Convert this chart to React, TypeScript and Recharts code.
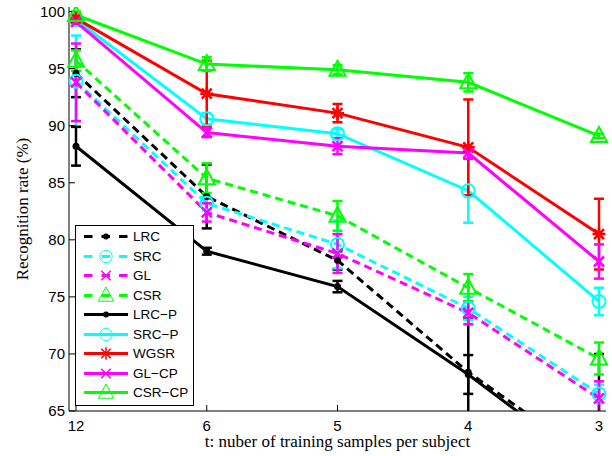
import React from 'react';
import { LineChart, Line, XAxis, YAxis, ErrorBar, Legend } from 'recharts';

const samples = ['12', '6', '5', '4', '3'];
const yTicks = [65, 70, 75, 80, 85, 90, 95, 100];

// recognition rate (%) and error (std) per method
const lrc = [94.6, 83.8, 78.2, 68.4, 60.3];
const lrcErr = [2.1, 2.8, 0.8, 4.7, 9.7];
const src = [93.9, 83.2, 79.6, 74.0, 66.5];
const srcErr = [4.0, 0.6, 2.1, 1.0, 0.8];
const gl = [93.8, 82.4, 78.8, 73.6, 66.1];
const glErr = [3.4, 0.8, 1.7, 1.0, 1.5];
const csr = [95.7, 85.4, 82.1, 75.8, 69.6];
const csrErr = [0.9, 1.3, 1.3, 1.2, 1.4];
const lrcP = [88.2, 79.0, 75.9, 68.2, 59.6];
const lrcPErr = [1.7, 0.3, 0.5, 1.7, 1.5];
const srcP = [99.3, 90.6, 89.3, 84.3, 74.6];
const srcPErr = [0.4, 0.5, 0.4, 2.8, 1.2];
const wgsr = [99.4, 92.8, 91.1, 88.1, 80.5];
const wgsrErr = [0.3, 2.9, 0.8, 4.2, 3.1];
const glCP = [99.1, 89.4, 88.2, 87.6, 78.1];
const glCPErr = [0.3, 0.4, 0.7, 0.5, 1.5];
const csrCP = [99.7, 95.4, 94.9, 93.8, 89.1];
const csrCPErr = [0.3, 0.6, 0.4, 0.8, 0.2];

type MarkerKind = 'dot' | 'circle' | 'x' | 'star' | 'triangle';

interface SeriesDef {
  key: string;
  name: string;
  color: string;
  dashed: boolean;
  marker: MarkerKind;
  values: number[];
  errors: number[];
}

const series: SeriesDef[] = [
  { key: 'lrc', name: 'LRC', color: '#000000', dashed: true, marker: 'dot', values: lrc, errors: lrcErr },
  { key: 'src', name: 'SRC', color: '#00ffff', dashed: true, marker: 'circle', values: src, errors: srcErr },
  { key: 'gl', name: 'GL', color: '#ff00ff', dashed: true, marker: 'x', values: gl, errors: glErr },
  { key: 'csr', name: 'CSR', color: '#00ff00', dashed: true, marker: 'triangle', values: csr, errors: csrErr },
  { key: 'lrcP', name: 'LRC\u2212P', color: '#000000', dashed: false, marker: 'dot', values: lrcP, errors: lrcPErr },
  { key: 'srcP', name: 'SRC\u2212P', color: '#00ffff', dashed: false, marker: 'circle', values: srcP, errors: srcPErr },
  { key: 'wgsr', name: 'WGSR', color: '#ff0000', dashed: false, marker: 'star', values: wgsr, errors: wgsrErr },
  { key: 'glCP', name: 'GL\u2212CP', color: '#ff00ff', dashed: false, marker: 'x', values: glCP, errors: glCPErr },
  { key: 'csrCP', name: 'CSR\u2212CP', color: '#00ff00', dashed: false, marker: 'triangle', values: csrCP, errors: csrCPErr },
];

const data = samples.map((t, i) => {
  const row: Record<string, string | number> = { t };
  series.forEach(s => {
    row[s.key] = s.values[i];
    row[s.key + 'Err'] = s.errors[i];
  });
  return row;
});

// plot box (pixels inside the 612x456 chart)
const PLOT = { left: 69, top: 7, right: 606, bottom: 411 };

const Marker = ({
  kind,
  cx,
  cy,
  color,
  lw = 2,
  scale = 1,
}: {
  kind: MarkerKind;
  cx: number;
  cy: number;
  color: string;
  lw?: number;
  scale?: number;
}) => {
  if (kind === 'dot') return <circle cx={cx} cy={cy} r={3.5 * scale} fill={color} stroke="none" />;
  if (kind === 'circle') return <circle cx={cx} cy={cy} r={6.5 * scale} fill="none" stroke={color} strokeWidth={lw} />;
  if (kind === 'x') {
    const d = 5 * scale;
    return (
      <path
        d={`M${cx - d},${cy - d}L${cx + d},${cy + d}M${cx - d},${cy + d}L${cx + d},${cy - d}`}
        stroke={color}
        strokeWidth={lw + 0.5}
        fill="none"
      />
    );
  }
  if (kind === 'star') {
    const d = 5 * scale;
    const e = 6.5 * scale;
    return (
      <path
        d={`M${cx - d},${cy - d}L${cx + d},${cy + d}M${cx - d},${cy + d}L${cx + d},${cy - d}M${cx},${cy - e}L${cx},${cy + e}M${cx - e},${cy}L${cx + e},${cy}`}
        stroke={color}
        strokeWidth={lw + 0.5}
        fill="none"
      />
    );
  }
  return (
    <path
      d={`M${cx},${cy - 9 * scale}L${cx + 8 * scale},${cy + 6 * scale}L${cx - 8 * scale},${cy + 6 * scale}Z`}
      stroke={color}
      strokeWidth={lw}
      fill="none"
    />
  );
};

const renderLegend = () => (
  <div
    style={{
      width: 119,
      height: 181,
      border: '1px solid #000',
      boxSizing: 'border-box',
      background: '#fff',
      paddingTop: 1,
      fontFamily: '"Liberation Sans", Arial, sans-serif',
      fontSize: 13.5,
      color: '#000',
    }}
  >
    {series.map(s => (
      <div key={s.key} style={{ display: 'flex', alignItems: 'center', height: 19.5 }}>
        <svg width={57} height={19} style={{ display: 'block' }}>
          <path
            d="M8,9.5L52,9.5"
            stroke={s.color}
            strokeWidth={3}
            strokeDasharray={s.dashed ? '8.5 9' : undefined}
          />
          <Marker kind={s.marker} cx={30} cy={9.5} color={s.color} lw={1} scale={s.marker === 'dot' ? 0.85 : 0.95} />
        </svg>
        <span style={{ lineHeight: '19px' }}>{s.name}</span>
      </div>
    ))}
  </div>
);

const tickStyle = { fontFamily: '"Liberation Sans", Arial, sans-serif', fontSize: 15, fill: '#000' };

const App: React.FC = () => {
  return (
    <div style={{ position: 'absolute', left: 0, top: 0, width: 612, height: 456, background: '#fff' }}>
      <style>{'.recharts-errorBar { clip-path: url(#plotClip); }'}</style>
      <svg width={0} height={0} style={{ position: 'absolute' }}>
        <defs>
          <clipPath id="plotClip" clipPathUnits="userSpaceOnUse">
            <rect
              x={PLOT.left}
              y={PLOT.top}
              width={PLOT.right - PLOT.left}
              height={PLOT.bottom - PLOT.top}
            />
          </clipPath>
        </defs>
      </svg>
      <LineChart
        width={612}
        height={456}
        data={data}
        margin={{ top: PLOT.top, right: 612 - PLOT.right, bottom: 0, left: 0 }}
      >
        <XAxis
          dataKey="t"
          height={456 - PLOT.bottom}
          padding={{ left: 7, right: 7 }}
          tick={tickStyle}
          tickSize={-6}
          tickMargin={15}
          axisLine={{ stroke: '#000' }}
          tickLine={{ stroke: '#000' }}
          label={() => (
            <text
              x={(PLOT.left + PLOT.right) / 2}
              y={447}
              textAnchor="middle"
              fontFamily='"Liberation Serif", "Times New Roman", serif'
              fontSize={17}
              fill="#000"
            >
              t: nuber of training samples per subject
            </text>
          )}
        />
        <XAxis
          xAxisId="top"
          dataKey="t"
          orientation="top"
          height={0}
          padding={{ left: 7, right: 7 }}
          tickSize={-6}
          tickFormatter={() => ''}
          axisLine={{ stroke: '#000' }}
          tickLine={{ stroke: '#000' }}
        />
        <YAxis
          type="number"
          width={PLOT.left}
          domain={[65, 100.4]}
          ticks={yTicks}
          interval={0}
          allowDataOverflow
          tick={tickStyle}
          tickSize={-6}
          tickMargin={10}
          axisLine={{ stroke: '#000' }}
          tickLine={{ stroke: '#000' }}
          label={() => {
            const cy = (PLOT.top + PLOT.bottom) / 2;
            return (
              <text
                x={22}
                y={cy}
                textAnchor="middle"
                dominantBaseline="central"
                transform={`rotate(-90, 22, ${cy})`}
                fontFamily='"Liberation Serif", "Times New Roman", serif'
                fontSize={17}
                fill="#000"
              >
                Recognition rate (%)
              </text>
            );
          }}
        />
        <YAxis
          yAxisId="right"
          orientation="right"
          type="number"
          width={0}
          domain={[65, 100.4]}
          ticks={yTicks}
          interval={0}
          allowDataOverflow
          tickSize={-6}
          tickFormatter={() => ''}
          axisLine={{ stroke: '#000' }}
          tickLine={{ stroke: '#000' }}
        />
        <Legend
          layout="vertical"
          align="center"
          verticalAlign="middle"
          wrapperStyle={{ left: 75, top: 225, width: 119, height: 181 }}
          content={renderLegend}
        />
        {series.map(s => (
          <Line
            key={s.key}
            dataKey={s.key}
            name={s.name}
            type="linear"
            stroke={s.color}
            strokeWidth={3}
            strokeDasharray={s.dashed ? '8 5' : undefined}
            isAnimationActive={false}
            activeDot={false}
            dot={(p: any) => (
              <g key={`${s.key}-${p.index}`}>
                <Marker kind={s.marker} cx={p.cx} cy={p.cy} color={s.color} />
              </g>
            )}
          >
            <ErrorBar
              dataKey={s.key + 'Err'}
              direction="y"
              width={5}
              stroke={s.color}
              strokeWidth={2.5}
              isAnimationActive={false}
            />
          </Line>
        ))}
      </LineChart>
    </div>
  );
};

export default App;
